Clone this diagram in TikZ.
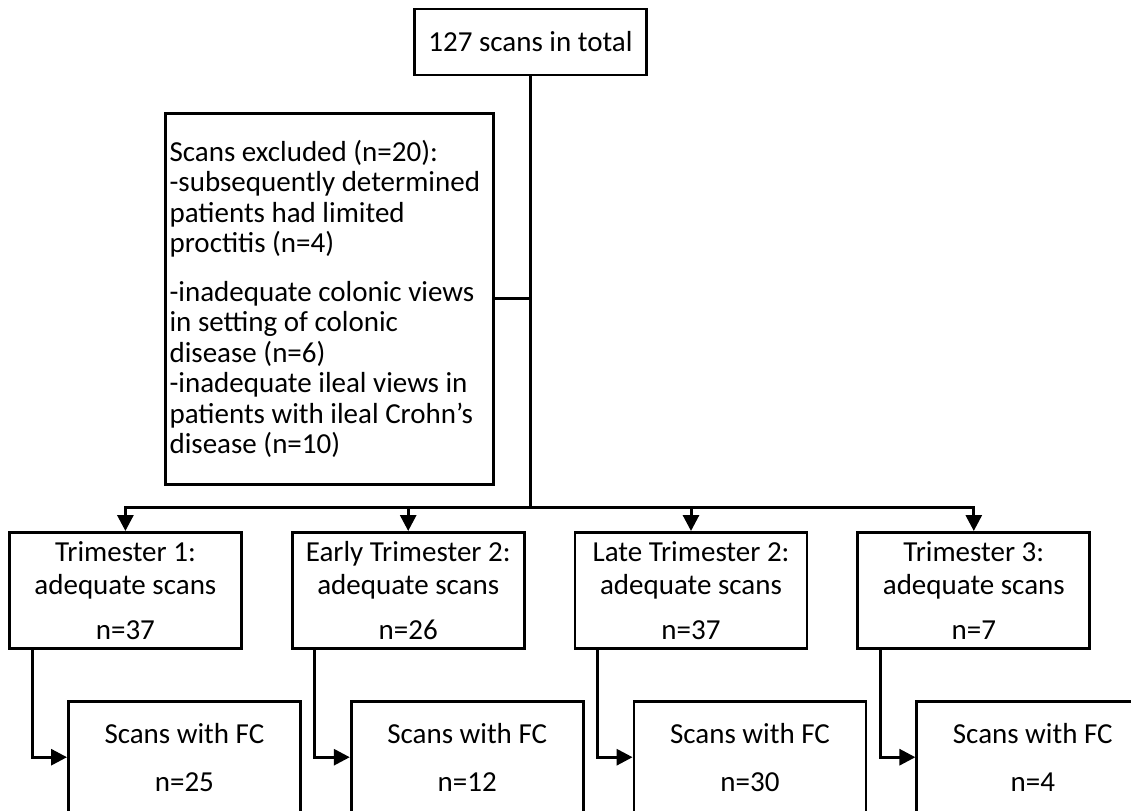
\documentclass[tikz,border=0pt]{standalone}
\usepackage{fontspec}
\setmainfont{Carlito}
\usetikzlibrary{arrows.meta,positioning}
\newcommand{\boxfont}{\fontsize{14.5}{16.5}\selectfont}
\newcommand{\exclfont}{\fontsize{14.5}{15.25}\selectfont}

\begin{document}
\begin{tikzpicture}[x=0.5pt,y=-0.5pt,node distance=24pt,>={Triangle[length=8pt,width=8pt]},
 line width=1.5pt,
 box/.style={draw,line width=1.4pt,align=center,font=\boxfont,inner sep=2pt,
 minimum width=116pt,minimum height=58pt},
 topbox/.style={box,minimum height=33pt},
 fcbox/.style={box,minimum height=56pt},
 exbox/.style={draw,line width=1.4pt,align=flush left,font=\exclfont,inner xsep=2pt,
 text width=160pt,minimum height=185.5pt}]
\useasboundingbox (0,0) rectangle (1131,810);
\clip (0,0) rectangle (1131,810);
\node[topbox] (total) at (530.5,42) {127 scans in total};
\node[exbox,anchor=north east] (excl) at (495,112) {Scans excluded (n=20):\\-subsequently determined\\patients had limited\\proctitis (n=4)\\[9pt]-inadequate colonic views\\in setting of colonic\\disease (n=6)\\-inadequate ileal views in\\patients with ileal Crohn’s\\disease (n=10)};
\node[box,anchor=north west] (t1) at (8,531) {Trimester 1:\\adequate scans\\[6pt]n=37};
\node[box,right=of t1] (t2) {Early Trimester 2:\\adequate scans\\[6pt]n=26};
\node[box,right=of t2] (t3) {Late Trimester 2:\\adequate scans\\[6pt]n=37};
\node[box,right=of t3] (t4) {Trimester 3:\\adequate scans\\[6pt]n=7};
\node[fcbox,below right=25pt and 29.5pt of t1.south west] (f1) {Scans with FC\\[7.5pt]n=25};
\node[fcbox,below right=25pt and 29.5pt of t2.south west] (f2) {Scans with FC\\[7.5pt]n=12};
\node[fcbox,below right=25pt and 29.5pt of t3.south west] (f3) {Scans with FC\\[7.5pt]n=30};
\node[fcbox,below right=25pt and 29.5pt of t4.south west] (f4) {Scans with FC\\[7.5pt]n=4};
\coordinate (hub) at ([yshift=12pt]total.south |- t1.north);
% trunk and exclusions
\draw (total.south) -- (hub);
\draw (excl.east) -- (excl.east -| total.south);
\foreach \i in {1,...,4} {
 \draw[->] (hub) -| (t\i.north);
 \draw[->] ([xshift=12pt]t\i.south west) |- (f\i.west);
}
\end{tikzpicture}
\end{document}
